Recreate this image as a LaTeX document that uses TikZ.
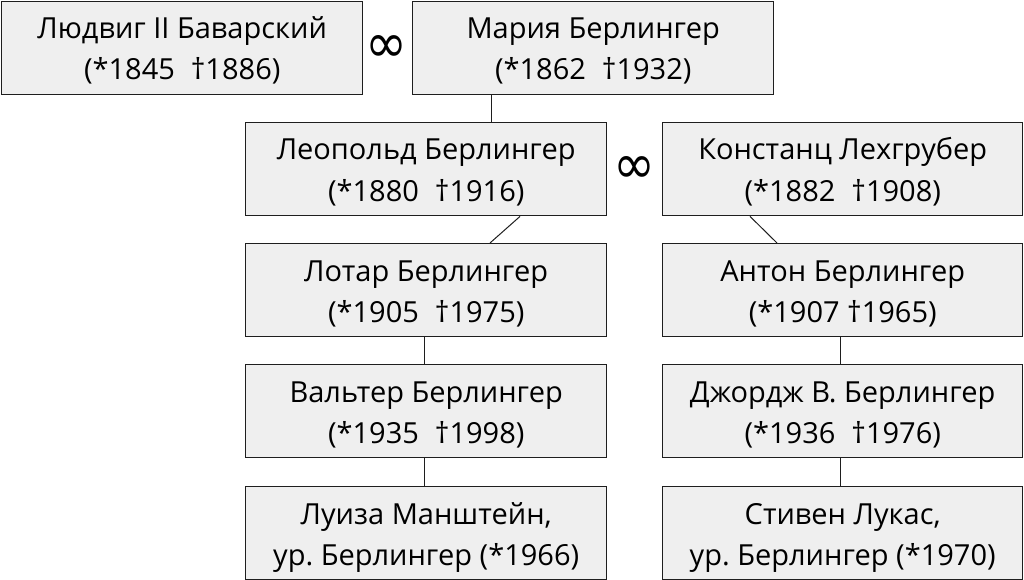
\documentclass[tikz,border=0pt]{standalone}
\usepackage{fontspec}
\setmainfont{Open Sans}
\newfontfamily\symfont{DejaVu Sans}
\usetikzlibrary{calc}
\definecolor{boxfill}{RGB}{239,239,239}
\definecolor{boxline}{RGB}{30,30,30}
\tikzset{
  personbox/.style={draw=boxline, line width=1.4pt, fill=boxfill, inner sep=0pt, anchor=north west},
  nametext/.style={anchor=base, inner sep=0pt, font=\fontsize{29}{34}\selectfont},
  link/.style={draw=boxline, line width=1pt},
  marriage/.style={inner sep=0pt, font=\symfont},
}
\newcommand\person[7]{%
  \node[personbox, minimum width=#4pt, minimum height=#5pt] (#1) at (#2,#3) {};
  \node[nametext] (#1-a) at ($(#1.north)+(0,38)$) {#6};
  \node[nametext] (#1-b) at ($(#1.north)+(0,79)$) {#7};
}
\newcommand\gap{\hspace{16pt}}
\newcommand\infsign{\resizebox{42pt}{27pt}{∞}}
\frenchspacing
\begin{document}
\begin{tikzpicture}[x=1pt,y=-1pt]
\useasboundingbox (0,0) rectangle (1024,580);
\person{ludwig}{1}{1}{361}{93}{Людвиг II Баварский}{(*1845\gap†1886)}
\person{maria}{412}{1}{361}{93}{Мария Берлингер}{(*1862\gap†1932)}
\person{leopold}{245}{122}{361}{93}{Леопольд Берлингер}{(*1880\gap†1916)}
\person{konst}{662}{122}{360}{93}{Констанц Лехгрубер}{(*1882\gap†1908)}
\person{lothar}{245}{243}{361}{93}{Лотар Берлингер}{(*1905\gap†1975)}
\person{anton}{662}{243}{360}{93}{Антон Берлингер}{(*1907 †1965)}
\person{walter}{245}{364}{361}{93}{Вальтер Берлингер}{(*1935\gap†1998)}
\person{george}{662}{364}{360}{93}{Джордж В. Берлингер}{(*1936\gap†1976)}
\person{luise}{245}{486}{361}{93}{Луиза Манштейн,}{ур. Берлингер (*1966)}
\person{steven}{662}{486}{360}{93}{Стивен Лукас,}{ур. Берлингер (*1970)}
\node[marriage] (m1) at (386.5,48.5) {\infsign};
\node[marriage] (m2) at (634,170) {\infsign};
\draw[link] ($(maria.south west)+(79,0)$) -- ($(leopold.north west)+(246,0)$);
\draw[link] ($(leopold.south west)+(275,0)$) -- ($(lothar.north west)+(245,0)$);
\draw[link] ($(konst.south west)+(88,0)$) -- ($(anton.north west)+(115,0)$);
\draw[link] ($(lothar.south west)+(179,0)$) -- ($(walter.north west)+(179,0)$);
\draw[link] ($(walter.south west)+(179,0)$) -- ($(luise.north west)+(179,0)$);
\draw[link] ($(anton.south west)+(178,0)$) -- ($(george.north west)+(178,0)$);
\draw[link] ($(george.south west)+(178,0)$) -- ($(steven.north west)+(178,0)$);
\end{tikzpicture}
\end{document}
